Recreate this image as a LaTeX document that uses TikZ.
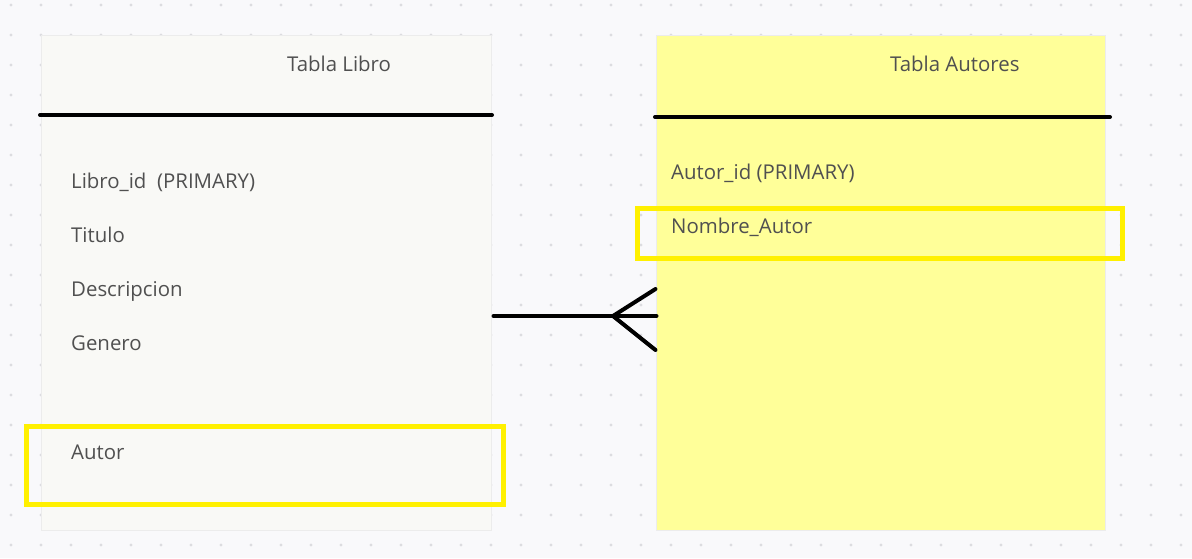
\documentclass[tikz,border=0pt]{standalone}
\usepackage{fontspec}
\setmainfont{Open Sans}
\definecolor{bgc}{HTML}{F9F9FB}
\definecolor{dotc}{HTML}{DCDCE0}
\definecolor{paper}{HTML}{F9F9F6}
\definecolor{sticky}{HTML}{FFFF99}
\definecolor{hlc}{HTML}{FFF000}
\definecolor{txtc}{HTML}{505050}
\definecolor{edgec}{HTML}{ECECEC}
\tikzset{
  table/.style={draw=edgec, line width=1pt, rectangle, inner sep=0pt},
  hlbox/.style={draw=hlc, line width=5pt, rectangle, inner sep=0pt, fill=none},
  field/.style={anchor=base west, inner sep=0pt, text=txtc, font=\fontsize{20.4}{22}\selectfont},
  rel/.style={line width=4pt, line cap=round, black},
  headline/.style={line width=4pt, line cap=round, black}
}
\begin{document}
\begin{tikzpicture}[x=1pt,y=-1pt]
\useasboundingbox (0,0) rectangle (1192,558);
\fill[bgc] (0,0) rectangle (1192,558);
\foreach \i in {0,...,39}{
  \foreach \j in {0,...,18}{
    \fill[dotc] (11+30*\i,5+30*\j) circle (1.6pt);
  }
}
% tables
\node[table, fill=paper, minimum width=450pt, minimum height=495pt] (libro) at (266,282.5) {};
\node[table, fill=sticky, minimum width=449pt, minimum height=495pt] (autores) at (880.5,282.5) {};
% header lines
\coordinate (lh1) at (40,115);
\coordinate (lh2) at (492,115);
\coordinate (rh1) at (655,117);
\coordinate (rh2) at (1110,117);
\draw[headline] (lh1) -- (lh2);
\draw[headline] (rh1) -- (rh2);
% titles
\node[field] (t1) at (287,71) {Tabla Libro};
\node[field] (t2) at (890,71) {Tabla Autores};
% fields
\node[field] (f1) at (71,188) {Libro\_id\ \ (PRIMARY)};
\node[field] (f2) at (71,242) {Titulo};
\node[field] (f3) at (71,296) {Descripcion};
\node[field] (f4) at (71,350) {Genero};
\node[field] (f5) at (71,459) {Autor};
\node[field] (g1) at (671,179) {Autor\_id (PRIMARY)};
\node[field] (g2) at (671,233) {Nombre\_Autor};
% highlights
\node[hlbox, minimum width=476.5pt, minimum height=78pt] (hl1) at (264.75,465) {};
\node[hlbox, minimum width=485pt, minimum height=50pt] (hl2) at (880,233) {};
% relation
\coordinate (ra) at ([yshift=-33.5pt, xshift=2pt]libro.east);
\coordinate (rb) at ([yshift=-33.5pt, xshift=1pt]autores.west);
\coordinate (cf) at (613,316);
\coordinate (cu) at (655.5,289);
\coordinate (cd) at (655.5,350);
\draw[rel] (ra) -- (rb);
\draw[rel] (cu) -- (cf) -- (cd);
\end{tikzpicture}
\end{document}
